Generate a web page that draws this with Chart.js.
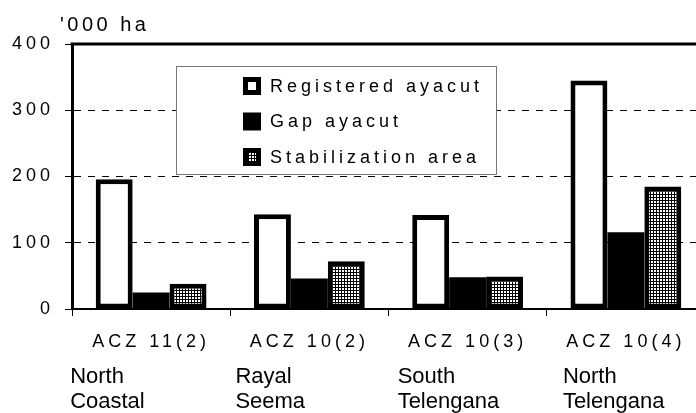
<!DOCTYPE html>
<html>
<head>
<meta charset="utf-8">
<script src="https://cdn.jsdelivr.net/npm/chart.js@4/dist/chart.umd.min.js"></script>
<style>
html, body { margin: 0; padding: 0; overflow: hidden; background: #fff; }
#wrap { width: 705px; height: 413px; }
</style>
</head>
<body>
<div id="wrap"><canvas id="chart"></canvas></div>
<script>
const zones = ["ACZ 11(2)", "ACZ 10(2)", "ACZ 10(3)", "ACZ 10(4)"];
const regions = [["North", "Coastal"], ["Rayal", "Seema"], ["South", "Telengana"], ["North", "Telengana"]];
const registered = [196, 143, 142, 345];
const gap = [25, 46, 48, 116];
const stabilization = [38, 72, 49, 185];
const yTicks = [0, 100, 200, 300, 400];
const yTitle = "'000 ha";

const FONT = '"Liberation Sans", Arial, sans-serif';
const canvas = document.getElementById("chart");
const ctx0 = canvas.getContext("2d");

// small white/black grid used for the stabilization bars
function gridPattern() {
    const c = document.createElement("canvas");
    c.width = c.height = 3;
    const g = c.getContext("2d");
    g.fillStyle = "#fff"; g.fillRect(0, 0, 3, 3);
    g.fillStyle = "#000"; g.fillRect(2, 0, 1, 3); g.fillRect(0, 2, 3, 1);
    return ctx0.createPattern(c, "repeat");
}
const stipple = gridPattern();

const spacing = {
    id: "spacing",
    beforeDraw(chart) { chart.ctx.letterSpacing = "4px"; }
};

const extras = {
    id: "extras",
    afterDraw(chart) {
        const { ctx, chartArea: a, scales: { x } } = chart;
        ctx.save();
        // top frame line
        ctx.strokeStyle = "#000"; ctx.lineWidth = 3;
        ctx.beginPath(); ctx.moveTo(a.left - 1.5, a.top); ctx.lineTo(a.right, a.top); ctx.stroke();

        // axis unit
        ctx.fillStyle = "#000";
        ctx.font = "20px " + FONT;
        ctx.letterSpacing = "3.5px";
        ctx.textAlign = "left"; ctx.textBaseline = "alphabetic";
        ctx.fillText(yTitle, 60, 31);

        // legend box
        ctx.fillStyle = "#fff"; ctx.strokeStyle = "#777"; ctx.lineWidth = 1;
        ctx.fillRect(176.5, 66.5, 320, 108);
        ctx.strokeRect(176.5, 66.5, 320, 108);
        ctx.font = "18px " + FONT; ctx.letterSpacing = "4px";
        ctx.textBaseline = "middle";
        chart.data.datasets.forEach((ds, i) => {
            const cy = 86 + i * 35.5, mx = 243, s = 18;
            ctx.fillStyle = "#000";
            ctx.fillRect(mx, cy - s / 2, s, s);
            if (i !== 1) {
                ctx.fillStyle = ds.backgroundColor;
                ctx.fillRect(mx + 5, cy - s / 2 + 5, s - 10, s - 10);
            }
            ctx.fillStyle = "#000";
            ctx.fillText(ds.label, 270, cy + 1);
        });

        // region names under the zone labels
        ctx.font = "22px " + FONT; ctx.letterSpacing = "0px";
        ctx.textBaseline = "alphabetic";
        const shift = [-81, -74, -70, -63];
        regions.forEach((r, i) => {
            const cx = x.getPixelForValue(i) + shift[i];
            ctx.fillText(r[0], cx, 383);
            ctx.fillText(r[1], cx, 408);
        });
        ctx.restore();
    }
};

new Chart(canvas, {
    type: "bar",
    data: {
        labels: zones,
        datasets: [
            { label: "Registered ayacut", data: registered, backgroundColor: "#fff", borderWidth: 5 },
            { label: "Gap ayacut", data: gap, backgroundColor: "#000", borderWidth: 0 },
            { label: "Stabilization area", data: stabilization, backgroundColor: stipple, borderWidth: 5 }
        ]
    },
    options: {
        responsive: true,
        maintainAspectRatio: false,
        animation: false,
        layout: { padding: { top: 44, right: 0, left: 0, bottom: 0 } },
        datasets: { bar: { borderColor: "#000", borderSkipped: false,
            categoryPercentage: 0.7, barPercentage: 1.0 } },
        plugins: { legend: { display: false }, tooltip: { enabled: false } },
        scales: {
            x: {
                afterFit: s => { s.height = 104; },
                grid: { drawOnChartArea: false, drawTicks: true, tickLength: 7, tickColor: "#000", tickWidth: 1 },
                border: { color: "#000", width: 2 },
                ticks: { color: "#000", font: { family: FONT, size: 18 }, padding: 15, maxRotation: 0 }
            },
            y: {
                min: 0, max: 400,
                afterFit: s => { s.width = 72; },
                afterBuildTicks: s => { s.ticks = yTicks.map(v => ({ value: v })); },
                grid: {
                    color: c => (c.tick && (c.tick.value === 0 || c.tick.value === 400)) ? "rgba(0,0,0,0)" : "#000",
                    lineWidth: 1, tickLength: 7, tickColor: "#000", tickWidth: 1
                },
                border: { color: "#000", width: 3, dash: [7, 7] },
                ticks: { color: "#000", font: { family: FONT, size: 18 }, padding: 11 }
            }
        }
    },
    plugins: [spacing, extras]
});
</script>
</body>
</html>
